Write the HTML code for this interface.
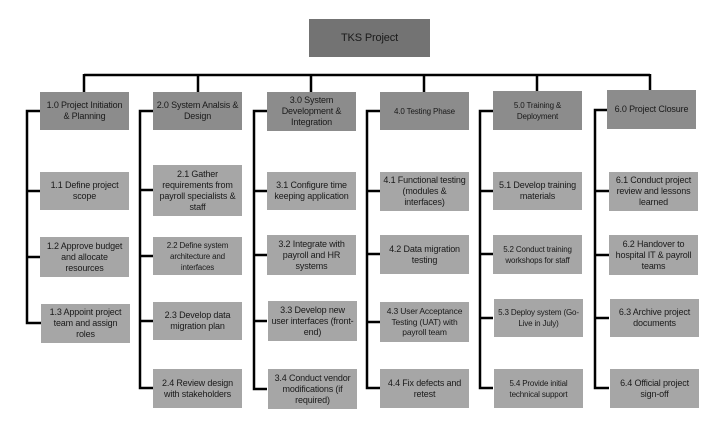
<!DOCTYPE html>
<html><head><meta charset="utf-8"><style>
html,body{margin:0;padding:0;background:#fff;}
body{width:723px;height:434px;position:relative;overflow:hidden;font-family:"Liberation Sans",sans-serif;}
.b{position:absolute;display:flex;align-items:center;justify-content:center;text-align:center;color:#1a1a1a;font-size:9px;line-height:11px;box-sizing:border-box;padding:0 3px;letter-spacing:-0.15px;}
.t{background:#737373;font-size:11px;}
.h{background:#8c8c8c;}
.c{background:#a6a6a6;}
svg{position:absolute;left:0;top:0;}
</style></head><body>
<svg width="723" height="434"><g stroke="#000" stroke-width="2.5" fill="none">
<path d="M84 75H650M84 74V92M198 74V92M311 74V92M424 74V92M537 74V92M650 74V91"/>
<path d="M40 111H27V323H41M27 191H40M27 257H40"/>
<path d="M153 111H140V388H153M140 190H153M140 256H153M140 321H153"/>
<path d="M267 111H254V389H267M254 191H267M254 255H267M254 321H267"/>
<path d="M380 111H367V388H380M367 191H380M367 254H380M367 322H380"/>
<path d="M493 111H480V388H493M480 191H493M480 254H493M480 318H493"/>
<path d="M607 110H595V388H609M595 191H609M595 255H609M595 318H609"/>
</g></svg>
<div class="b t" style="left:309px;top:19px;width:121px;height:38px">TKS Project</div>

<div class="b h" style="left:40px;top:92px;width:89px;height:38px">1.0 Project Initiation &amp; Planning</div>
<div class="b c" style="left:40px;top:172px;width:89px;height:38px">1.1 Define project scope</div>
<div class="b c" style="left:40px;top:237px;width:89px;height:40px">1.2 Approve budget and allocate resources</div>
<div class="b c" style="left:41px;top:304px;width:89px;height:39px">1.3 Appoint project team and assign roles</div>

<div class="b h" style="left:153px;top:92px;width:89px;height:38px">2.0 System Analsis &amp; Design</div>
<div class="b c" style="left:153px;top:165px;width:89px;height:51px">2.1 Gather requirements from payroll specialists &amp; staff</div>
<div class="b c" style="left:153px;top:237px;width:89px;height:38px;font-size:8px">2.2 Define system architecture and interfaces</div>
<div class="b c" style="left:153px;top:302px;width:89px;height:38px">2.3 Develop data migration plan</div>
<div class="b c" style="left:153px;top:369px;width:89px;height:39px">2.4 Review design with stakeholders</div>

<div class="b h" style="left:267px;top:92px;width:89px;height:39px">3.0 System Development &amp; Integration</div>
<div class="b c" style="left:267px;top:172px;width:89px;height:38px">3.1 Configure time keeping application</div>
<div class="b c" style="left:267px;top:235px;width:89px;height:40px">3.2 Integrate with payroll and HR systems</div>
<div class="b c" style="left:268px;top:301px;width:89px;height:40px">3.3 Develop new user interfaces (front-end)</div>
<div class="b c" style="left:268px;top:369px;width:89px;height:40px">3.4 Conduct vendor modifications (if required)</div>

<div class="b h" style="left:380px;top:92px;width:89px;height:38px;font-size:8px">4.0 Testing Phase</div>
<div class="b c" style="left:380px;top:172px;width:89px;height:39px">4.1 Functional testing (modules &amp; interfaces)</div>
<div class="b c" style="left:380px;top:235px;width:89px;height:39px">4.2 Data migration testing</div>
<div class="b c" style="left:380px;top:302px;width:89px;height:40px;font-size:8.5px;line-height:10.5px;padding:0 1px">4.3 User Acceptance Testing (UAT) with payroll team</div>
<div class="b c" style="left:380px;top:369px;width:89px;height:39px">4.4 Fix defects and retest</div>

<div class="b h" style="left:493px;top:91px;width:89px;height:39px;font-size:8px">5.0 Training &amp; Deployment</div>
<div class="b c" style="left:493px;top:172px;width:89px;height:38px">5.1 Develop training materials</div>
<div class="b c" style="left:493px;top:235px;width:89px;height:39px;font-size:8px">5.2 Conduct training workshops for staff</div>
<div class="b c" style="left:494px;top:299px;width:89px;height:38px;font-size:8px">5.3 Deploy system (Go-Live in July)</div>
<div class="b c" style="left:494px;top:369px;width:89px;height:39px;font-size:8px">5.4 Provide initial technical support</div>

<div class="b h" style="left:607px;top:90px;width:89px;height:39px">6.0 Project Closure</div>
<div class="b c" style="left:609px;top:172px;width:89px;height:39px">6.1 Conduct project review and lessons learned</div>
<div class="b c" style="left:609px;top:235px;width:89px;height:40px">6.2 Handover to hospital IT &amp; payroll teams</div>
<div class="b c" style="left:610px;top:299px;width:89px;height:38px">6.3 Archive project documents</div>
<div class="b c" style="left:610px;top:369px;width:89px;height:39px">6.4 Official project sign-off</div>
</body></html>
